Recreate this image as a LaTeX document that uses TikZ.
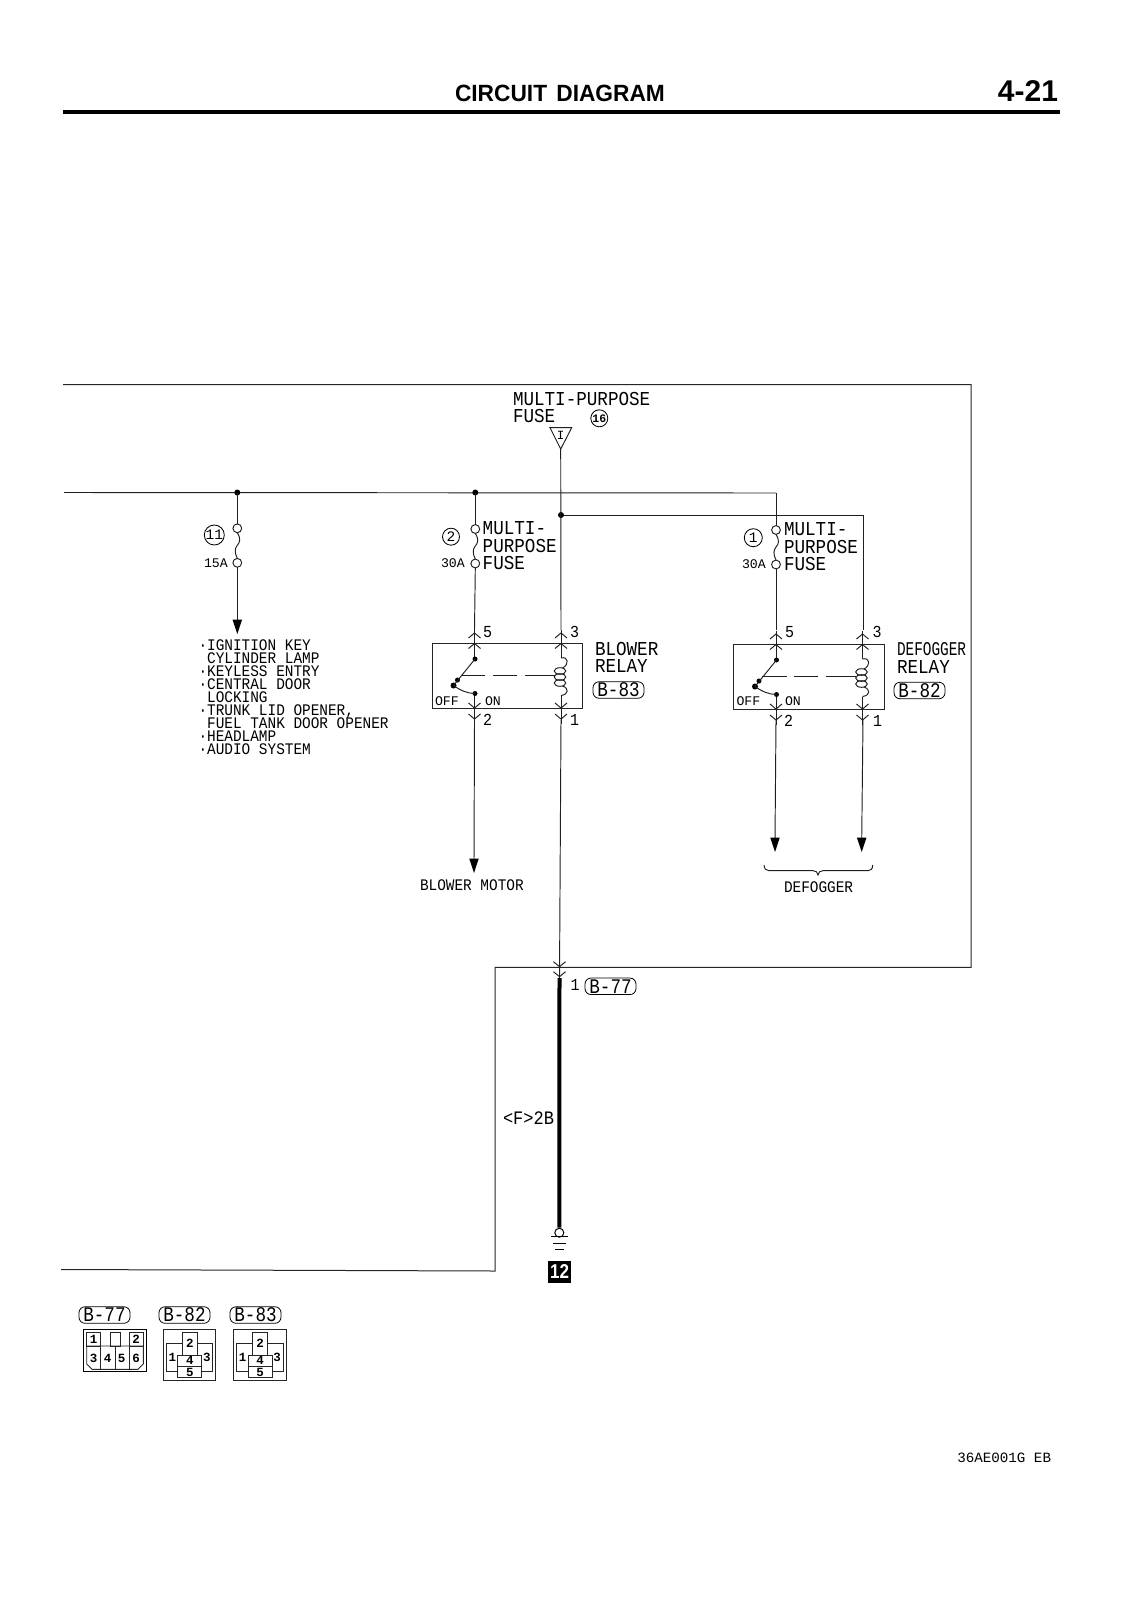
\documentclass[tikz,border=0pt]{standalone}
\usepackage{fontspec}
\usepackage{graphicx}
\setmainfont{Liberation Sans}
\setmonofont{Liberation Mono}
\newcommand\tallA[1]{\scalebox{1}[1.12]{#1}}
\newcommand\tallB[1]{\scalebox{1}[1.18]{#1}}
\tikzset{
  wire/.style={line width=0.95pt,black!88},
  border/.style={line width=1pt,black!85},
  thinb/.style={line width=0.9pt,black!85},
  lbl/.style={inner sep=0pt,outer sep=0pt,anchor=base west},
  big/.style={lbl,font=\fontsize{17.6}{17.6}\selectfont\ttfamily},
  mid/.style={lbl,font=\fontsize{14.4}{14.4}\selectfont\ttfamily},
  tiny/.style={lbl,font=\fontsize{13.2}{13.2}\selectfont\ttfamily},
  pinnum/.style={lbl,font=\fontsize{15}{15}\selectfont\ttfamily},
  conntag/.style={draw,line width=0.8pt,rounded corners=6pt,minimum width=51pt,minimum height=16.5pt,inner sep=0pt,font=\fontsize{17.6}{17.6}\selectfont\ttfamily},
  circnum/.style={draw,circle,line width=0.85pt,inner sep=0pt,font=\fontsize{14.5}{14.5}\selectfont\ttfamily},
  cellnum/.style={inner sep=0pt,font=\fontsize{12.5}{12.5}\selectfont\ttfamily\bfseries},
  dot/.style={circle,fill=black,inner sep=0pt,minimum size=6pt},
  smalldot/.style={circle,fill=black,inner sep=0pt,minimum size=5pt},
  pinup/.pic={\draw[wire] (-6,5)--(0,0)--(6,5);},
  pindown/.pic={\draw[wire] (-6,-5)--(0,0)--(6,-5);},
  fusepic/.pic={
    \draw[wire] (0,0) circle[radius=4.4];
    \draw[wire] (0,34.5) circle[radius=4.4];
    \draw[wire] (0,4.4) .. controls (4,11) and (2.5,14) .. (0,17) .. controls (-2.5,20) and (-3,24) .. (0,30.1);
  },
  arrowtip/.pic={\fill[black] (0,0)--(-4.8,-14.5)--(4.8,-14.5)--cycle;},
  relaypic/.pic={
    \draw[wire] (0,-14)--(0,15.5);
    \draw[wire] (0,50)--(0,80);
    \draw[wire] (86.5,-14)--(86.5,14.5);
    \draw[wire] (86.5,52)--(86.5,80);
    \node[smalldot] at (0.5,15.5) {};
    \node[smalldot] at (0.5,50) {};
    \node[dot] at (-21,42) {};
    \node[smalldot] at (-17,36.5) {};
    \draw[wire] (-21,42)--(0.5,15.5);
    \draw[wire] (-21,42) .. controls (-14,47) and (-7,50) .. (0.5,50);
    \draw[wire] (-14,32)--(10.5,32);
    \draw[wire] (18,32)--(42,32);
    \draw[wire] (50,32)--(80,32);
    \draw[wire] (86.5,14.5) .. controls (94,12.5) and (95,21) .. (88,24.5);
    \draw[wire] (85.5,27.5) ellipse[x radius=5.8,y radius=3.3];
    \draw[wire] (85.5,33.5) ellipse[x radius=5.8,y radius=3.3];
    \draw[wire] (85.5,39.5) ellipse[x radius=5.8,y radius=3.3];
    \draw[wire] (88,42.5) .. controls (95,45) and (94,51) .. (86.5,52);
    \path (0,-10.5) pic {pinup} (0,0) pic {pinup} (86.5,-10.5) pic {pinup} (86.5,0) pic {pinup};
    \path (0,64.5) pic {pindown} (0,75.5) pic {pindown} (86.5,64.5) pic {pindown} (86.5,75.5) pic {pindown};
  },
  threepin/.pic={
    \draw[thinb] (0,0) rectangle (52.4,50.7);
    \draw[thinb] (2.7,14) rectangle (19,42.4);
    \draw[thinb] (34,14) rectangle (49.4,42.4);
    \draw[thinb,fill=white] (19,3) rectangle (34,25.7);
    \draw[thinb,fill=white] (14.4,25.7) rectangle (38.4,37.4);
    \draw[thinb,fill=white] (14.4,37.4) rectangle (38.4,48.4);
    \node[cellnum] at (26.5,14.5) {2};
    \node[cellnum] at (9,28) {1};
    \node[cellnum] at (43.5,28) {3};
    \node[cellnum] at (26.5,31.5) {4};
    \node[cellnum] at (26.5,43) {5};
  }
}
\begin{document}
\begin{tikzpicture}[x=1pt,y=-1pt]
\useasboundingbox (0,0) rectangle (1131,1600);
% header
\node[lbl,font=\fontsize{23.5}{23.5}\selectfont\bfseries] (title) at (455,101.7) {\scalebox{0.967}[1]{CIRCUIT\hspace{3pt} DIAGRAM}};
\node[lbl,anchor=base east,font=\fontsize{30}{30}\selectfont\bfseries] (pageno) at (1058,102) {4-21};
\coordinate (ruleL) at (63,112); \coordinate (ruleR) at (1060,112);
\draw[line width=4.5pt] (ruleL)--(ruleR);
% outer border
\coordinate (bA) at (63,384.5); \coordinate (bB) at (971,384.5); \coordinate (bC) at (971,967.3);
\coordinate (bD) at (495,967.3); \coordinate (bE) at (495,1271); \coordinate (bF) at (61,1269.5);
\draw[border] (bA)--(bB)--(bC)--(bD)--(bE)--(bF);
% top fuse
\node[big] (mpf1) at (513,405) {\tallA{MULTI-PURPOSE}};
\node[big] (mpf2) at (513,422.7) {\tallA{FUSE}};
\node[circnum,minimum size=17pt,font=\fontsize{11.5}{11.5}\selectfont\ttfamily\bfseries] (c16) at (599.3,418.3) {16};
\coordinate (triA) at (550,427.7); \coordinate (triB) at (571.7,427.7); \coordinate (triC) at (560.7,449);
\draw[wire] (triA)--(triB)--(triC)--cycle;
\node[inner sep=0pt,font=\fontsize{12.5}{12.5}\selectfont\ttfamily] (triI) at (560.7,435.5) {I};
% bus
\coordinate (busL) at (64,492.5);
\coordinate (j11) at (237.3,492.5);
\coordinate (j2) at (475.3,492.5);
\coordinate (busR) at (776,493);
\coordinate (jC) at (561,515);
\coordinate (wR) at (863.5,515);
\draw[wire] (busL)--(busR);
\draw[wire] (jC)--(wR);
\node[dot] at (j11) {};
\node[dot] at (j2) {};
\node[dot] at (jC) {};
% fuse 11
\draw[wire] (j11)--(237.3,523.9);
\path (237.3,528.3) pic {fusepic};
\draw[wire] (237.3,567.2)--(237.3,622);
\path (237.3,634) pic {arrowtip};
\node[circnum,minimum size=20pt] (c11) at (214.3,535) {11};
\node[tiny] (a15) at (204,567) {15A};
% list
\node[lbl,font=\fontsize{14.4}{14.4}\selectfont\ttfamily] (list) at (198.5,650) {\tallA{\vtop{\lineskiplimit=-30pt\baselineskip=11.62pt
\hbox{·IGNITION KEY}
\hbox{\phantom{·}CYLINDER LAMP}
\hbox{·KEYLESS ENTRY}
\hbox{·CENTRAL DOOR}
\hbox{\phantom{·}LOCKING}
\hbox{·TRUNK LID OPENER,}
\hbox{\phantom{·}FUEL TANK DOOR OPENER}
\hbox{·HEADLAMP}
\hbox{·AUDIO SYSTEM}}}};
% fuse 2
\draw[wire] (j2)--(475.3,524.6);
\path (475.3,529) pic {fusepic};
\draw[wire] (475.3,567.9)--(474.5,630);
\node[circnum,minimum size=17pt] (c2) at (451,536.7) {2};
\node[tiny] (a30) at (441,567.7) {30A};
\node[big] (f2a) at (482.7,534) {\tallA{MULTI-}};
\node[big] (f2b) at (482.7,552.3) {\tallA{PURPOSE}};
\node[big] (f2c) at (482.7,569) {\tallA{FUSE}};
% fuse 1
\draw[wire] (busR)--(776,525.6);
\path (776,530) pic {fusepic};
\draw[wire] (776,568.9)--(776,630);
\node[circnum,minimum size=18pt] (c1) at (753.3,537.7) {1};
\node[tiny] (b30) at (742,568) {30A};
\node[big] (f1a) at (784,535) {\tallA{MULTI-}};
\node[big] (f1b) at (784,553) {\tallA{PURPOSE}};
\node[big] (f1c) at (784,570) {\tallA{FUSE}};
% blower relay
\draw[thinb] (432,643.5) rectangle (582,708.5);
\path (474.5,643.5) pic {relaypic};
\node[pinnum] (p5) at (483,637) {\tallA{5}};
\node[pinnum] (p3) at (570,637) {\tallA{3}};
\node[pinnum] (p2) at (483,725) {\tallA{2}};
\node[pinnum] (p1) at (570,725) {\tallA{1}};
\node[tiny] (off1) at (435,705) {OFF};
\node[tiny] (on1) at (485,705) {ON};
\node[big] (br1) at (595,655) {\tallA{BLOWER}};
\node[big] (br2) at (595,672) {\tallA{RELAY}};
\node[conntag] (t83) at (618.5,690) {\tallB{B-83}};
% defogger relay
\draw[thinb] (733,644.5) rectangle (884,709.5);
\path (776,644.5) pic {relaypic};
\node[pinnum] (q5) at (785,637) {\tallA{5}};
\node[pinnum] (q3) at (872.7,637) {\tallA{3}};
\node[pinnum] (q2) at (784,726) {\tallA{2}};
\node[pinnum] (q1) at (873,726) {\tallA{1}};
\node[tiny] (off2) at (736.5,705) {OFF};
\node[tiny] (on2) at (785,705) {ON};
\node[mid] (dr1) at (897,655) {\scalebox{1}[1.35]{DEFOGGER}};
\node[big] (dr2) at (897,673) {\tallA{RELAY}};
\node[conntag] (t82) at (919.5,690.5) {\tallB{B-82}};
% centre / outgoing wires
\draw[wire] (triC)--(561,630);
\draw[wire] (wR)--(863.5,630);
\draw[wire] (474.5,720)--(474,862);
\path (474,873) pic {arrowtip};
\draw[wire] (561,720)--(559.5,978);
\draw[wire] (776,720)--(775,840);
\path (775,852) pic {arrowtip};
\draw[wire] (863,720)--(861.7,840);
\path (861.7,852) pic {arrowtip};
\node[mid] (bm) at (420,890) {\tallA{BLOWER MOTOR}};
\node[mid] (df) at (784,892) {\tallA{DEFOGGER}};
\draw[wire] (764,865) .. controls (764.5,869) and (766,870.7) .. (769,870.7) -- (813,870.7) .. controls (816,870.7) and (817.5,872) .. (818,875) .. controls (818.5,872) and (820,870.7) .. (823,870.7) -- (868,870.7) .. controls (871,870.7) and (872.5,869) .. (872.7,865);
% bottom connector and ground
\path (559.5,966.7) pic {pindown} (559.5,976.7) pic {pindown};
\node[pinnum] (g1) at (570.7,990) {\tallA{1}};
\node[conntag] (t77a) at (610.5,986.3) {\tallB{B-77}};
\node[big,font=\fontsize{17}{17}\selectfont\ttfamily] (f2b0) at (503,1124) {\tallA{<F>2B}};
\node[draw,circle,line width=1pt,inner sep=0pt,minimum size=9pt] (gc) at (559.3,1232.7) {};
\coordinate (thickTop) at (559.5,978);
\draw[line width=4pt] (thickTop)--(gc.north);
\coordinate (g1a) at (551,1236.9); \coordinate (g1b) at (568,1236.9);
\coordinate (g2a) at (553,1243.3); \coordinate (g2b) at (566,1243.3);
\coordinate (g3a) at (555,1249.6); \coordinate (g3b) at (564,1249.6);
\draw[line width=1pt] (g1a)--(g1b);
\draw[line width=1pt] (g2a)--(g2b);
\draw[line width=1pt] (g3a)--(g3b);
\node[fill=black,minimum size=22.4pt,inner sep=0pt,text=white,font=\fontsize{20}{20}\selectfont\bfseries] (g12) at (559.5,1271.8) {\scalebox{0.85}[1]{12}};
% connector faces
\node[conntag] (t77) at (104.5,1315) {\tallB{B-77}};
\node[conntag] (t82b) at (184.5,1315) {\tallB{B-82}};
\node[conntag] (t83b) at (255.5,1315) {\tallB{B-83}};
\draw[line width=1pt] (83.3,1329.3) rectangle (146,1371.7);
\draw[thinb] (86.7,1332.3) rectangle (100.7,1346);
\draw[thinb] (110,1332.3) rectangle (120,1346);
\draw[thinb] (129,1332.3) rectangle (143.3,1346);
\draw[thinb] (86.7,1346) -- (86.7,1364) -- (92,1369.3) -- (138,1369.3) -- (143.3,1364) -- (143.3,1346) -- cycle;
\draw[thinb] (100.7,1346)--(100.7,1369.3);
\draw[thinb] (115,1346)--(115,1369.3);
\draw[thinb] (129,1346)--(129,1369.3);
\node[cellnum] (n1) at (93.7,1339.2) {1};
\node[cellnum] (n2) at (136,1339.2) {2};
\node[cellnum] (n3) at (93.5,1358) {3};
\node[cellnum] (n4) at (107.5,1358) {4};
\node[cellnum] (n5) at (121.5,1358) {5};
\node[cellnum] (n6) at (136,1358) {6};
\path (163.3,1329.3) pic {threepin};
\path (233.6,1329.3) pic {threepin};
% footer
\node[lbl,font=\fontsize{14.2}{14.2}\selectfont\ttfamily] (foot) at (957.3,1462.5) {36AE001G EB};
\end{tikzpicture}
\end{document}
